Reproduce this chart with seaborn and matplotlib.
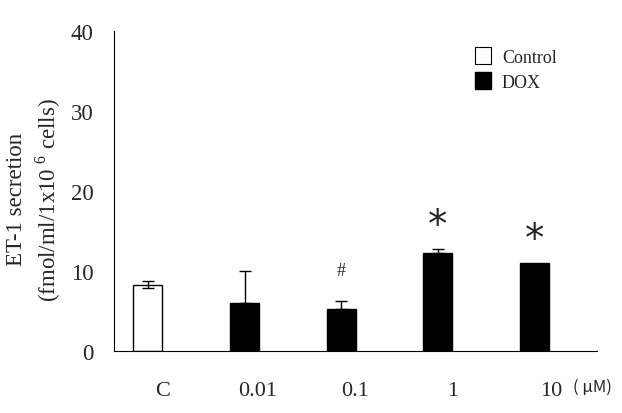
import numpy as np
import pandas as pd
import seaborn as sns
import matplotlib.pyplot as plt
from matplotlib.patches import Patch
import matplotlib.transforms as mtransforms

sns.set_style("white")
plt.rcParams['font.family'] = ['Liberation Serif', 'DejaVu Serif']
plt.rcParams['mathtext.fontset'] = 'custom'
plt.rcParams['mathtext.rm'] = 'Liberation Serif'

# data
groups = ["C", "0.01", "0.1", "1", "10"]
treatment = ["Control", "DOX", "DOX", "DOX", "DOX"]
et1 = [8.3, 6.0, 5.2, 12.25, 11.0]
err = [0.45, 4.0, 1.1, 0.55, 0.0]
marks = ["", "", "#", "*", "*"]

df = pd.DataFrame({"group": groups, "treatment": treatment, "et1": et1})

fig = plt.figure(figsize=(6.22, 4.14), dpi=100)
ax = fig.add_axes([0.1833, 0.15, 0.777, 0.7727])

sns.barplot(data=df, x="group", y="et1", hue="group", order=groups,
            palette=["white", "black", "black", "black", "black"],
            edgecolor="black", linewidth=1, width=0.3, legend=False, ax=ax)

pos = np.arange(len(groups))
# control has two-sided error, DOX bars only upward
ax.errorbar(pos[:1], et1[:1], yerr=[err[:1], err[:1]], fmt="none",
            ecolor="black", elinewidth=1, capsize=4)
ax.errorbar(pos[1:4], et1[1:4], yerr=[[0, 0, 0], err[1:4]], fmt="none",
            ecolor="black", elinewidth=1, capsize=4)

for i, m in enumerate(marks):
    if m == "*":
        ax.text(pos[i], et1[i] + err[i] + 3.0, "*", ha="center", va="center",
                fontsize=28, family="DejaVu Sans")
    elif m == "#":
        ax.text(pos[i], et1[i] + err[i] + 3.8, "#", ha="center", va="center",
                fontsize=13)

ax.set_xlim(-0.35, 4.65)
ax.set_ylim(0, 40)
ax.set_yticks([0, 10, 20, 30, 40])
ax.set_xticks(pos + 0.65)
ax.set_xticklabels([])
ax.set_xlabel("")
ax.set_ylabel("")
ax.tick_params(axis="both", direction="in", length=4, width=0.8, labelsize=16.5)
ax.tick_params(axis="y", pad=14.5)
sns.despine(ax=ax)
for s in ["left", "bottom"]:
    ax.spines[s].set_linewidth(0.8)
    ax.spines[s].set_color("black")

trans = mtransforms.blended_transform_factory(ax.transData, ax.transAxes)
label_x = [0.155, 1.14, 2.14, 3.15, 4.17]
for lx, g in zip(label_x, groups):
    ax.text(lx, -0.125, g, transform=trans, ha="center", va="center", fontsize=16)
ax.text(4.6, -0.112, "( μM)", transform=trans, ha="center", va="center",
        fontsize=12, family=["Noto Sans CJK JP", "Liberation Serif"])

# two-line y label, placed as in the original
fig.text(17 / 622, 1 - 199 / 414, "ET-1 secretion", rotation=90,
         ha="center", va="center", fontsize=16.5)
fig.text(48 / 622, 1 - 200 / 414, "(fmol/ml/1x10$^{\\ 6}$ cells)", rotation=90,
         ha="center", va="center", fontsize=16.5)

handles = [Patch(facecolor="white", edgecolor="black", linewidth=0.8, label="Control"),
           Patch(facecolor="black", edgecolor="black", label="DOX")]
ax.legend(handles=handles, loc="upper left", bbox_to_anchor=(0.713, 1.0),
          frameon=False, fontsize=13, handlelength=0.9, handleheight=1.05,
          handletextpad=0.6, labelspacing=0.35)

fig.savefig("out.png", dpi=100)
